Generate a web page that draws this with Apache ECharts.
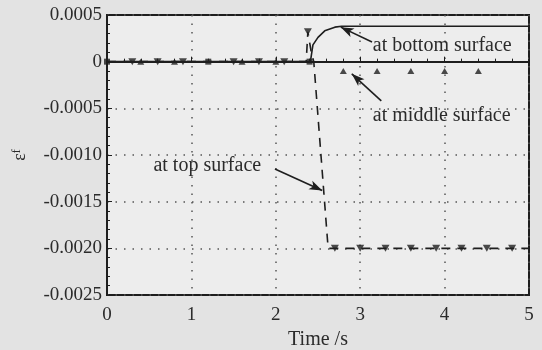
<!DOCTYPE html>
<html><head><meta charset="utf-8">
<script src="https://cdn.jsdelivr.net/npm/echarts@6/dist/echarts.min.js"></script>
<style>html,body{margin:0;padding:0;background:#e3e3e3}#c{width:542px;height:350px}</style>
</head><body><div id="c"></div>
<script>
// ---- data ----
const xTickLabels = ['0','1','2','3','4','5'];
const yTickLabels = ['-0.0025','-0.0020','-0.0015','-0.0010','-0.0005','0','0.0005'];
// bottom surface (solid line)
const bottomLine = [[0,0],[2.41,0],[2.44,0.00018],[2.5,0.00026],[2.58,0.00033],[2.7,0.00037],[2.78,0.00038],[5,0.00038]];
const bottomMarks = [[0,0],[1.2,0],[2.4,0]];
// top surface (dashed line, down triangles)
const topLine = [[0,0],[2.36,0],[2.38,0.00032],[2.42,0.0001],[2.45,0],[2.62,-0.002],[5,-0.002]];
const topMarks = [[0.3,0],[0.6,0],[0.9,0],[1.5,0],[1.8,0],[2.1,0],[2.38,0.00032],[2.7,-0.002],[3.0,-0.002],[3.3,-0.002],[3.6,-0.002],[3.9,-0.002],[4.2,-0.002],[4.5,-0.002],[4.8,-0.002]];
// middle surface (up triangles)
const middleMarks = [[0.4,0],[0.8,0],[1.6,0],[2.0,0],[2.8,-0.0001],[3.2,-0.0001],[3.6,-0.0001],[4.0,-0.0001],[4.4,-0.0001]];
// annotations: [text, textAnchor, arrowFrom, arrowTo]
const annBottom = ['at bottom surface',[3.15,0.00017],[3.14,0.00021],[2.77,0.00037]];
const annMiddle = ['at middle surface',[3.15,-0.00058],[3.25,-0.00042],[2.9,-0.00013]];
const annTop    = ['at top surface',[0.55,-0.00111],[1.99,-0.00115],[2.55,-0.00138]];
// ---- chart ----
const FONT = "'Liberation Serif','DejaVu Serif',serif";
const TXT = '#2b2b2b';
const anns = [annBottom, annMiddle, annTop];
const chart = echarts.init(document.getElementById('c'));
chart.setOption({
  backgroundColor: '#e3e3e3',
  animation: false,
  grid: {left:107, right:13, top:15, bottom:55, outerBoundsMode:'none', containLabel:false, show:true, backgroundColor:'#ededed', borderColor:'#1e1e1e', borderWidth:2},
  xAxis: {
    type:'value', min:0, max:5, interval:1,
    name:'Time /s', nameLocation:'middle', nameGap:31,
    nameTextStyle:{fontFamily:FONT, fontSize:20, color:TXT},
    axisLine:{show:true, lineStyle:{color:'#1e1e1e', width:2}},
    axisTick:{show:true, inside:true, length:5, lineStyle:{color:'#1e1e1e'}},
    minorTick:{show:true, splitNumber:5, length:3, lineStyle:{color:'#1e1e1e'}},
    axisLabel:{fontFamily:FONT, fontSize:19, color:TXT, margin:11, formatter:(v)=>xTickLabels[Math.round(v)]},
    splitLine:{show:true, lineStyle:{color:'#555', type:[1.5,7], width:1.5}}
  },
  yAxis: {
    type:'value', min:-0.0025, max:0.0005, interval:0.0005,
    name:'{e|ε}{s|f}', nameLocation:'middle', nameGap:78, nameRotate:90,
    nameTextStyle:{rich:{e:{fontFamily:FONT, fontSize:18, color:TXT}, s:{fontFamily:FONT, fontSize:12, color:TXT, verticalAlign:'top'}}},
    axisLine:{show:true, lineStyle:{color:'#1e1e1e', width:2}},
    axisTick:{show:true, inside:true, length:5, lineStyle:{color:'#1e1e1e'}},
    minorTick:{show:true, splitNumber:5, length:3, lineStyle:{color:'#1e1e1e'}},
    axisLabel:{fontFamily:FONT, fontSize:19, color:TXT, margin:5, formatter:(v)=>yTickLabels[Math.round((v+0.0025)/0.0005)]},
    splitLine:{show:true, lineStyle:{color:'#555', type:[1.5,7], width:1.5}}
  },
  series: [
    {name:'top', type:'line', data:topLine, showSymbol:false, symbol:'none',
     lineStyle:{color:'#1e1e1e', width:1.6, type:[9,7]}, z:3},
    {name:'bottom', type:'line', data:bottomLine, smooth:false, symbol:'none',
     lineStyle:{color:'#1e1e1e', width:1.6}, z:4,
     markLine:{silent:true, symbol:['none','arrow'], symbolSize:[7,13],
       lineStyle:{color:'#1e1e1e', width:1.6, type:'solid'}, label:{show:false},
       data: anns.map(a=>[{coord:a[2]},{coord:a[3]}])},
     markPoint:{silent:true, symbol:'circle', symbolSize:0,
       label:{show:true, position:'right', distance:0, fontFamily:FONT, fontSize:20, color:TXT, formatter:(p)=>p.name},
       data: anns.map(a=>({name:a[0], coord:a[1]}))}
    },
    {name:'bottomMarks', type:'scatter', data:bottomMarks, symbol:'rect', symbolSize:6, itemStyle:{color:'#1e1e1e'}, z:5},
    {name:'topMarks', type:'scatter', data:topMarks, symbol:'triangle', symbolRotate:180, symbolSize:[8,7], itemStyle:{color:'#1e1e1e'}, z:5},
    {name:'middleMarks', type:'scatter', data:middleMarks, symbol:'triangle', symbolSize:[7,6], itemStyle:{color:'#1e1e1e'}, z:5}
  ]
});
</script></body></html>
